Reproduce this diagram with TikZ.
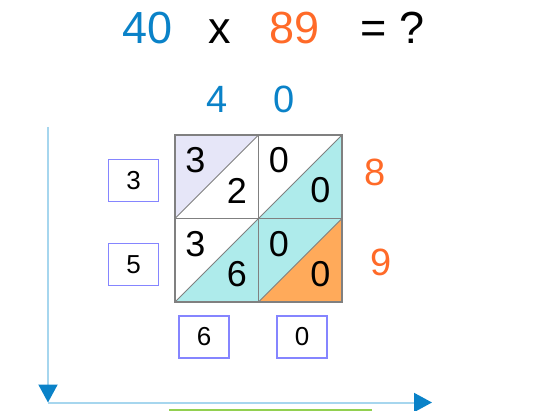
\documentclass[tikz,border=0pt]{standalone}
\usepackage{fontspec}
\setmainfont{Liberation Sans}
\usetikzlibrary{arrows.meta, positioning}
\definecolor{numblue}{HTML}{0A82C8}
\definecolor{numorange}{HTML}{FF6A28}
\definecolor{lav}{HTML}{E6E6F8}
\definecolor{cyn}{HTML}{AEEBEB}
\definecolor{orng}{HTML}{FFAA5A}
\definecolor{axline}{HTML}{A6D6EE}
\definecolor{boxline}{HTML}{8585FF}
\definecolor{grn}{HTML}{92D050}

\begin{document}
\begin{tikzpicture}[
  x=1pt, y=-1pt,
  every node/.style={inner sep=0pt, outer sep=0pt},
  digit/.style={font=\fontsize{36}{36}\selectfont},
  edge/.style={font=\fontsize{38}{38}\selectfont},
  ttl/.style={font=\fontsize{45}{45}\selectfont, anchor=base},
  boxd/.style={draw=boxline, line width=1.3pt, minimum width=50pt, minimum height=42pt,
    font=\fontsize{26}{26}\selectfont},
  cellb/.style={draw=gray, line width=1.3pt},
  diag/.style={draw=gray, line width=0.8pt},
  axis/.style={axline, line width=2pt, -{Triangle[width=19pt, length=18pt, color=numblue]}}
]
\useasboundingbox (0,0) rectangle (537,411);
\def\X{175}\def\Y{135}\def\S{83.5}
% the question
\node[ttl, text=numblue] (aa) at (148,43.5) {40};
\node[ttl] (times) at (220,43.5) {x};
\node[ttl, text=numorange] (bb) at (295,43.5) {89};
\node[ttl] (eq) at (392.5,43.5) {= ?};
% digits along the grid
\node[edge, text=numblue] (a1) at (217,99) {4};
\node[edge, text=numblue] (a2) at (284,99) {0};
\node[edge, text=numorange] (b1) at (375,172) {8};
\node[edge, text=numorange] (b2) at (381,262) {9};
% lattice cells
\foreach \c/\r/\fu/\fl/\du/\dl in {0/0/lav/white/3/2, 1/0/white/cyn/0/0,
    0/1/white/cyn/3/6, 1/1/cyn/orng/0/0}{
  \pgfmathsetmacro{\xa}{\X+\c*\S}\pgfmathsetmacro{\ya}{\Y+\r*\S}
  \pgfmathsetmacro{\xb}{\xa+\S}\pgfmathsetmacro{\yb}{\ya+\S}
  \fill[\fu] (\xa,\ya) -- (\xb,\ya) -- (\xa,\yb) -- cycle;
  \fill[\fl] (\xb,\ya) -- (\xb,\yb) -- (\xa,\yb) -- cycle;
  \draw[diag] (\xa,\yb) -- (\xb,\ya);
  \draw[cellb] (\xa,\ya) rectangle (\xb,\yb);
  \node[digit] (u\c\r) at (\xa+20.5,\ya+25.5) {\du};
  \node[digit] (l\c\r) at (\xa+62,\ya+55.5) {\dl};
}
% answer boxes
\node[boxd] (s1) at (133.5,180.5) {3};
\node[boxd] (s2) at (133.5,264.5) {5};
\node[boxd] (s3) at (204,337) {6};
\node[boxd] (s4) at (302,337) {0};
% axes
\coordinate (top) at (48,127);
\coordinate (corner) at (48,402.5);
\coordinate (right) at (432,402.5);
\draw[axis] (top) -- (corner);
\draw[axis] (corner) -- (right);
% bar below
\fill[grn] (169,409) rectangle (372,425);
\end{tikzpicture}
\end{document}
